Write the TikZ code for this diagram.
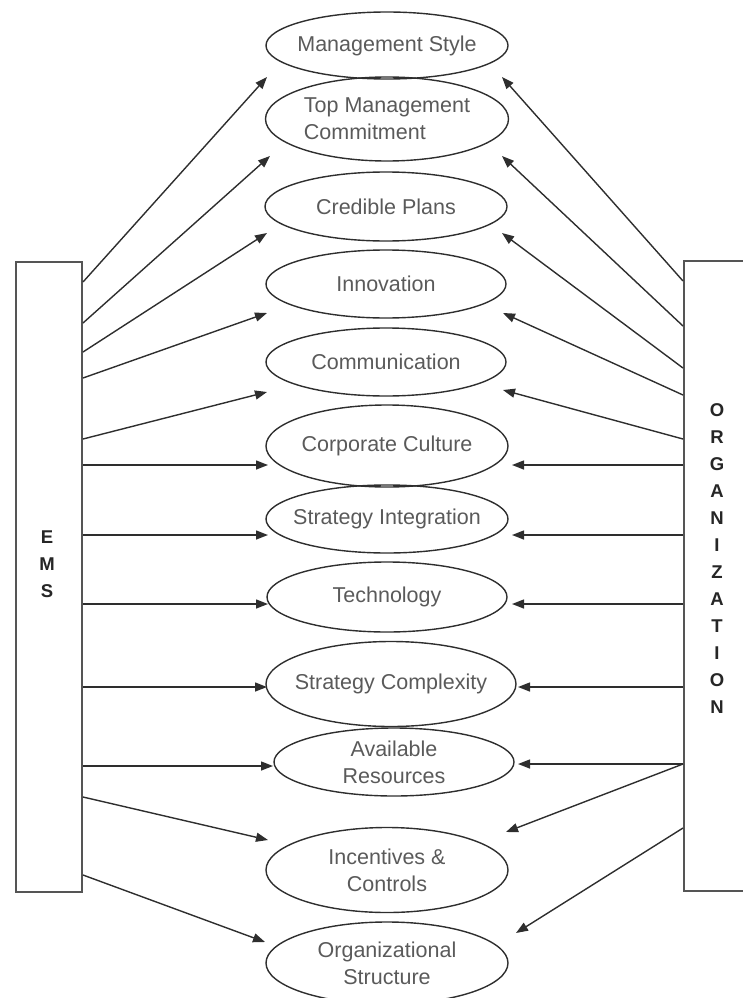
\documentclass[tikz,border=0pt]{standalone}
\usepackage{fontspec}
\setmainfont{Liberation Sans}
\usetikzlibrary{arrows.meta,shapes.geometric}
\definecolor{txtgray}{HTML}{5A5A5A}
\definecolor{linegray}{HTML}{2E2E2E}
\definecolor{boxgray}{HTML}{555555}
\begin{document}
\begin{tikzpicture}[x=1pt,y=-1pt,
  ell/.style={ellipse,draw=linegray,line width=1.4pt,inner sep=0pt},
  txt/.style={font=\fontsize{21.5}{27}\selectfont,text=txtgray,align=center,inner sep=0pt},
  sidebox/.style={draw=boxgray,line width=2pt,fill=white,inner sep=0pt},
  letters/.style={font=\fontsize{18.5}{27}\selectfont\bfseries,text=black!85,align=center,inner sep=0pt},
  conn/.style={draw=linegray,line width=1.4pt,-{Triangle[length=12pt,width=9pt]}}]
\useasboundingbox (0,0) rectangle (742,998);
% side boxes
\node[sidebox,minimum width=66pt,minimum height=630pt] (ems) at (49,577) {};
\node[sidebox,minimum width=74pt,minimum height=630pt] (org) at (721,576) {};
\node[letters] (emstxt) at (47,564) {E\\M\\S};
\node[letters] (orgtxt) at (717,559) {O\\R\\G\\A\\N\\I\\Z\\A\\T\\I\\O\\N};
% ellipses
\node[ell,minimum width=242pt,minimum height=67pt,label={[txt]center:Management Style}] (n1) at (387,45.5) {};
\node[ell,minimum width=243pt,minimum height=84pt,label={[txt,align=left]center:Top Management\\Commitment}] (n2) at (387,119) {};
\node[ell,minimum width=242pt,minimum height=69pt,label={[txt]center:Credible Plans}] (n3) at (386,206.5) {};
\node[ell,minimum width=240pt,minimum height=68pt,label={[txt]center:Innovation}] (n4) at (386,284) {};
\node[ell,minimum width=240pt,minimum height=68pt,label={[txt]center:Communication}] (n5) at (386,362) {};
\node[ell,minimum width=242pt,minimum height=82pt,label={[txt]center:Corporate Culture}] (n6) at (387,446) {};
\node[ell,minimum width=242pt,minimum height=68pt,label={[txt]center:Strategy Integration}] (n7) at (387,519) {};
\node[ell,minimum width=240pt,minimum height=70pt,label={[txt]center:Technology}] (n8) at (387,597) {};
\node[ell,minimum width=250pt,minimum height=85pt,label={[txt]center:Strategy Complexity}] (n9) at (391,684) {};
\node[ell,minimum width=240pt,minimum height=68pt,label={[txt]center:Available\\Resources}] (n10) at (394,762) {};
\node[ell,minimum width=242pt,minimum height=85pt,label={[txt]center:Incentives \&\\Controls}] (n11) at (387,870) {};
\node[ell,minimum width=242pt,minimum height=82pt,label={[txt]center:Organizational\\Structure}] (n12) at (387,963) {};
% arrow tips (left side)
\coordinate (l1) at (267,77);
\coordinate (l2) at (270,156);
\coordinate (l3) at (267,233);
\coordinate (l4) at (267,313);
\coordinate (l5) at (267,392);
\coordinate (l6) at (268,465);
\coordinate (l7) at (268,535);
\coordinate (l8) at (268,604);
\coordinate (l9) at (267,687);
\coordinate (l10) at (273,766);
\coordinate (l11) at (268,840);
\coordinate (l12) at (265,942);
% arrow tips (right side)
\coordinate (r1) at (502,77);
\coordinate (r2) at (502,156);
\coordinate (r3) at (502,233);
\coordinate (r4) at (503,313);
\coordinate (r5) at (503,390);
\coordinate (r6) at (512,465);
\coordinate (r7) at (512,535);
\coordinate (r8) at (512,604);
\coordinate (r9) at (518,687);
\coordinate (r10) at (518,764);
\coordinate (r11) at (506,832);
\coordinate (r12) at (516,933);
% EMS connectors
\draw[conn] (ems.east |- 0,282) -- (l1);
\draw[conn] (ems.east |- 0,323) -- (l2);
\draw[conn] (ems.east |- 0,352) -- (l3);
\draw[conn] (ems.east |- 0,378) -- (l4);
\draw[conn] (ems.east |- 0,439) -- (l5);
\draw[conn] (ems.east |- 0,465) -- (l6);
\draw[conn] (ems.east |- 0,535) -- (l7);
\draw[conn] (ems.east |- 0,604) -- (l8);
\draw[conn] (ems.east |- 0,687) -- (l9);
\draw[conn] (ems.east |- 0,766) -- (l10);
\draw[conn] (ems.east |- 0,797) -- (l11);
\draw[conn] (ems.east |- 0,875) -- (l12);
% ORGANIZATION connectors
\draw[conn] (org.west |- 0,281) -- (r1);
\draw[conn] (org.west |- 0,326) -- (r2);
\draw[conn] (org.west |- 0,368) -- (r3);
\draw[conn] (org.west |- 0,395) -- (r4);
\draw[conn] (org.west |- 0,439) -- (r5);
\draw[conn] (org.west |- 0,465) -- (r6);
\draw[conn] (org.west |- 0,535) -- (r7);
\draw[conn] (org.west |- 0,604) -- (r8);
\draw[conn] (org.west |- 0,687) -- (r9);
\draw[conn] (org.west |- 0,764) -- (r10);
\draw[conn] (org.west |- 0,764) -- (r11);
\draw[conn] (org.west |- 0,828) -- (r12);
\end{tikzpicture}
\end{document}
